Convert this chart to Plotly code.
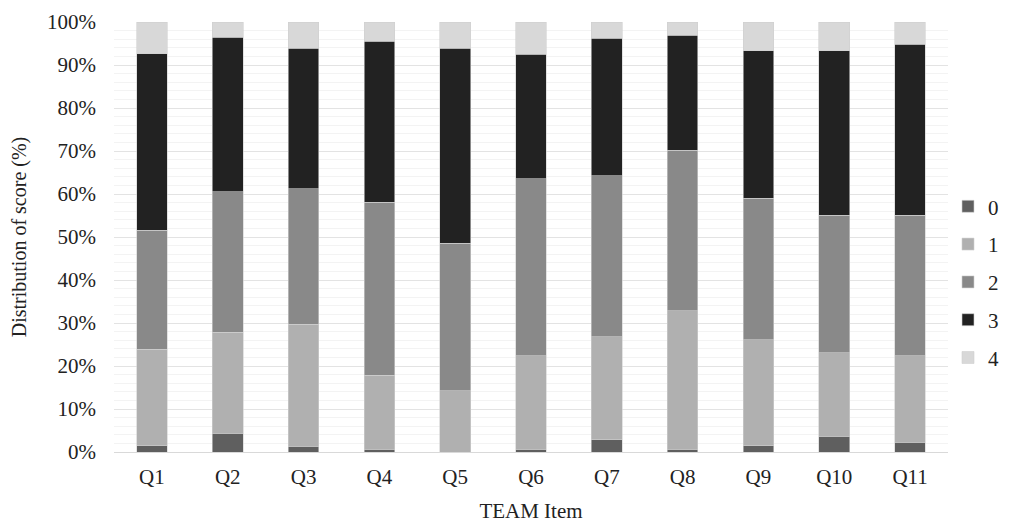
import plotly.graph_objects as go

items = ["Q1", "Q2", "Q3", "Q4", "Q5", "Q6", "Q7", "Q8", "Q9", "Q10", "Q11"]
score_0 = [1.4, 4.4, 1.3, 0.6, 0.0, 0.6, 2.9, 0.6, 1.4, 3.7, 2.3]
score_1 = [22.5, 23.4, 28.4, 17.3, 14.2, 21.8, 23.9, 32.2, 24.7, 19.4, 20.1]
score_2 = [27.7, 32.7, 31.5, 40.2, 34.3, 41.1, 37.4, 37.4, 32.9, 32.0, 32.7]
score_3 = [41.0, 35.9, 32.7, 37.4, 45.4, 29.0, 32.0, 26.7, 34.3, 38.2, 39.7]
score_4 = [7.4, 3.6, 6.1, 4.5, 6.1, 7.5, 3.8, 3.1, 6.7, 6.7, 5.2]

series = [("0", score_0, "#5f5f5f"),
          ("1", score_1, "#b0b0b0"),
          ("2", score_2, "#898989"),
          ("3", score_3, "#222222"),
          ("4", score_4, "#d8d8d8")]

FONT = "Liberation Serif, Times New Roman, serif"

fig = go.Figure()
for name, vals, col in series:
    fig.add_trace(go.Bar(x=items, y=vals, name=name, legendgroup=name,
                         marker=dict(color=col, line=dict(width=0.6, color="#d0d0d0"))))

# page body has an 8px margin, so the figure is offset by 8px
fig.update_layout(
    width=1002, height=515,
    barmode="stack", bargap=0.595,
    plot_bgcolor="white", paper_bgcolor="white",
    margin=dict(l=106, r=62, t=13.5, b=71, autoexpand=False),
    font=dict(family=FONT, size=21, color="#222222"),
    legend=dict(x=1.0, y=0.395, xanchor="left", yanchor="middle",
                traceorder="grouped", tracegroupgap=7.5,
                font=dict(family=FONT, size=21, color="#222222"),
                itemwidth=30),
    showlegend=True,
)
fig.update_xaxes(
    title=dict(text="TEAM Item", font=dict(family=FONT, size=21), standoff=15),
    showline=True, linecolor="#d9d9d9", linewidth=1,
    ticks="", ticklabelstandoff=6,
    tickfont=dict(family=FONT, size=21),
    automargin=False,
)
fig.update_yaxes(
    title=dict(text="Distribution of score (%)", font=dict(family=FONT, size=20), standoff=15),
    range=[0, 100], dtick=10, ticksuffix="%",
    showgrid=True, gridcolor="#e3e3e3", gridwidth=1,
    minor=dict(dtick=2, showgrid=True, gridcolor="#f3f3f3", gridwidth=1),
    zeroline=False, ticks="", ticklabelstandoff=17,
    tickfont=dict(family=FONT, size=21),
    automargin=False,
)
fig.write_html("out.html")
